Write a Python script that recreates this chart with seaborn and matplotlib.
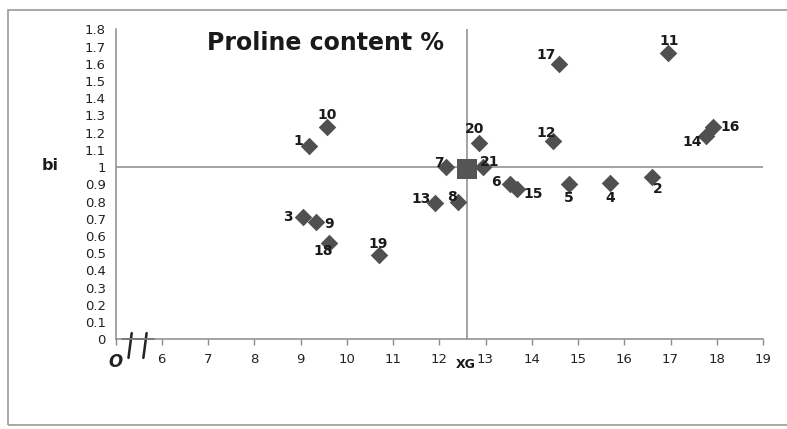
import matplotlib
matplotlib.use("Agg")
import matplotlib.pyplot as plt
import seaborn as sns
import pandas as pd
from matplotlib.patches import Rectangle

genotypes = ["1", "2", "3", "4", "5", "6", "7", "8", "9", "10", "11",
             "12", "13", "14", "15", "16", "17", "18", "19", "20", "21"]
xg_values = [9.19, 16.61, 9.05, 15.70, 14.81, 13.53, 12.14, 12.40, 9.34, 9.57, 16.94,
             14.47, 11.91, 17.77, 13.69, 17.92, 14.58, 9.62, 10.70, 12.86, 12.94]
bi_values = [1.12, 0.94, 0.71, 0.91, 0.90, 0.90, 1.00, 0.80, 0.68, 1.23, 1.66,
             1.15, 0.79, 1.18, 0.87, 1.23, 1.60, 0.56, 0.49, 1.14, 1.00]
# label offsets in points (dx, dy)
label_offsets = [(-8, 4), (4, -8), (-11, 0), (0, -11), (0, -10), (-10, 2), (-5, 3), (-4, 3),
                 (9, -1), (0, 9), (1, 9), (-5, 6), (-10, 3), (-10, -4), (11, -3), (12, 0),
                 (-9, 6), (-4, -6), (-1, 8), (-3, 10), (5, 4)]
mean_xg = 12.6
mean_bi = 0.99
x_tick_values = [5, 6, 7, 8, 9, 10, 11, 12, 13, 14, 15, 16, 17, 18, 19]
x_tick_labels = ["O", "6", "7", "8", "9", "10", "11", "12", "13", "14", "15", "16", "17", "18", "19"]
y_tick_values = [0, 0.1, 0.2, 0.3, 0.4, 0.5, 0.6, 0.7, 0.8, 0.9, 1.0,
                 1.1, 1.2, 1.3, 1.4, 1.5, 1.6, 1.7, 1.8]
y_tick_labels = ["0", "0.1", "0.2", "0.3", "0.4", "0.5", "0.6", "0.7", "0.8", "0.9", "1",
                 "1.1", "1.2", "1.3", "1.4", "1.5", "1.6", "1.7", "1.8"]

df = pd.DataFrame({"genotype": genotypes, "XG": xg_values, "bi": bi_values})
df_mean = pd.DataFrame({"XG": [mean_xg], "bi": [mean_bi]})

sns.set_theme(style="white")
plt.rcParams["font.family"] = ["DejaVu Sans"]

fig = plt.figure(figsize=(7.87, 4.29), dpi=100)
ax = fig.add_axes([0.1468, 0.2091, 0.8227, 0.7226])

grey_line = "#8a8a8a"
ax.axhline(1.0, color=grey_line, lw=1.1, zorder=1)
ax.plot([mean_xg, mean_xg], [0, 1.8], color=grey_line, lw=1.1, zorder=1)

sns.scatterplot(data=df, x="XG", y="bi", marker="D", s=80, color="#505050",
                edgecolor="#505050", linewidth=0, ax=ax, zorder=3)
sns.scatterplot(data=df_mean, x="XG", y="bi", marker="s", s=210, color="#555555",
                edgecolor="#555555", linewidth=0, ax=ax, zorder=3)

for g, x, y, (dx, dy) in zip(genotypes, xg_values, bi_values, label_offsets):
    ax.annotate(g, (x, y), xytext=(dx, dy), textcoords="offset points",
                ha="center", va="center", fontsize=10, fontweight="bold", color="#1a1a1a")

ax.set_xlim(5, 19)
ax.set_ylim(0, 1.8)
ax.set_xticks(x_tick_values)
ax.set_xticklabels(x_tick_labels)
ax.set_yticks(y_tick_values)
ax.set_yticklabels(y_tick_labels)
ax.set_xlabel("")
ax.set_ylabel("")

for sp in ["top", "right"]:
    ax.spines[sp].set_visible(False)
for sp in ["left", "bottom"]:
    ax.spines[sp].set_color(grey_line)
    ax.spines[sp].set_linewidth(1.1)

ax.tick_params(axis="both", which="both", direction="out", length=4, width=1,
               color=grey_line, labelcolor="#222222")
ax.tick_params(axis="y", labelsize=9.5, pad=3)
ax.tick_params(axis="x", labelsize=9.5, pad=6, bottom=True)
for lbl in ax.get_xticklabels():
    if lbl.get_text() == "O":
        lbl.set_fontstyle("italic")
        lbl.set_fontsize(12)
        lbl.set_fontweight("bold")

# axis break marks
ax.plot([0.025, 0.020], [0.02, -0.06], transform=ax.transAxes, color="#222222",
        lw=1.8, clip_on=False)
ax.plot([0.048, 0.043], [0.02, -0.06], transform=ax.transAxes, color="#222222",
        lw=1.8, clip_on=False)
ax.plot([0.010, 0.060], [0.0, 0.0], transform=ax.transAxes, color="#222222",
        lw=1.2, clip_on=False)

ax.text(9.55, 1.72, "Proline content %", fontsize=17, fontweight="bold",
        color="#1a1a1a", ha="center", va="center")
fig.text(50 / 787, 1 - 165 / 429, "bi", fontsize=11.5, fontweight="bold",
         ha="center", va="center", color="#1a1a1a")
fig.text(466 / 787, 1 - 364 / 429, "XG", fontsize=9, fontweight="bold",
         ha="center", va="center", color="#1a1a1a")

fig.patches.append(Rectangle((8 / 787, 1 - 425 / 429), 1.1, (425 - 10) / 429,
                             transform=fig.transFigure, fill=False,
                             edgecolor="#9a9a9a", lw=1.2, clip_on=False))

fig.savefig("out.png", dpi=100)
